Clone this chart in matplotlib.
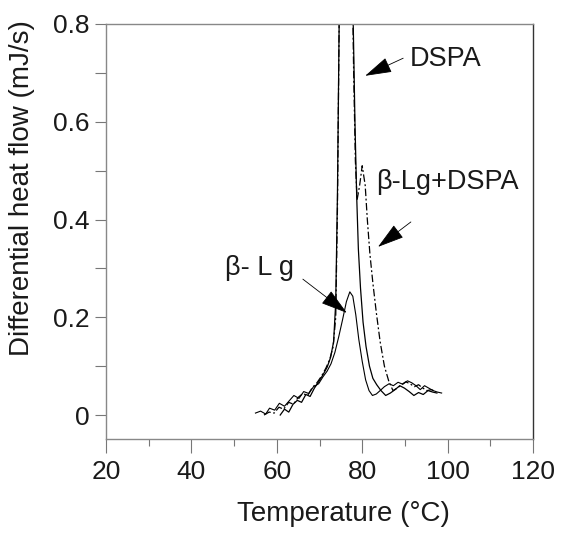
import matplotlib
matplotlib.use("Agg")
import matplotlib.pyplot as plt
from matplotlib.ticker import MultipleLocator

plt.rcParams["font.family"] = ["Liberation Sans", "DejaVu Sans"]

# beta-Lg alone (solid, broad peak)
t_lg = [55.0, 56.2, 57.4, 58.3, 59.5, 60.6, 61.8, 63.0, 64.0, 65.2, 66.3, 67.5,
        68.6, 69.8, 70.8, 71.8, 72.7, 73.6, 74.5, 75.4, 76.3, 77.1, 77.8, 78.5,
        79.2, 80.0, 80.8, 81.6, 82.4, 83.3, 84.2, 85.2, 86.3, 87.3, 88.4, 89.5,
        90.6, 91.6, 92.6, 93.6, 94.6, 95.6, 96.6, 97.6, 98.6]
q_lg = [0.004, 0.008, 0.002, 0.014, 0.010, 0.024, 0.018, 0.030, 0.040, 0.034,
        0.048, 0.044, 0.058, 0.064, 0.078, 0.090, 0.105, 0.128, 0.160, 0.195,
        0.232, 0.252, 0.243, 0.205, 0.155, 0.110, 0.072, 0.050, 0.040, 0.043,
        0.050, 0.058, 0.064, 0.060, 0.067, 0.063, 0.070, 0.066, 0.060, 0.052,
        0.060, 0.055, 0.050, 0.047, 0.045]

# DSPA alone (solid, sharp transition, off scale)
t_dspa = [60.8, 61.8, 62.8, 63.8, 64.8, 65.8, 66.8, 67.8, 68.8, 69.8, 70.8, 71.8,
          72.6, 73.3, 73.8, 74.2, 74.6, 75.2, 76.0, 76.8, 77.4, 77.9, 78.3, 78.7,
          79.1, 79.6, 80.2, 80.9, 81.7, 82.5, 83.4, 84.4, 85.5, 86.6, 87.7, 88.8,
          89.9, 91.0, 92.1, 93.2, 94.3, 95.4, 96.5, 97.5]
q_dspa = [0.0, 0.012, 0.006, 0.022, 0.030, 0.026, 0.042, 0.038, 0.055, 0.068,
          0.082, 0.098, 0.118, 0.150, 0.230, 0.450, 0.800, 1.200, 1.500, 1.300,
          1.000, 0.800, 0.600, 0.450, 0.340, 0.260, 0.190, 0.140, 0.100, 0.075,
          0.062, 0.050, 0.040, 0.045, 0.052, 0.060, 0.055, 0.048, 0.040, 0.046,
          0.042, 0.050, 0.047, 0.045]

# beta-Lg + DSPA (dash-dot)
t_mix = [57.0, 58.2, 59.4, 60.5, 61.6, 62.8, 63.9, 65.0, 66.1, 67.2, 68.3, 69.4,
         70.5, 71.5, 72.4, 73.2, 73.8, 74.2, 74.6, 75.2, 76.0, 76.8, 77.5, 78.0,
         78.4, 78.8, 79.4, 80.0, 80.7, 81.2, 81.8, 82.5, 83.3, 84.2, 85.2, 86.2,
         87.2, 88.2, 89.2, 90.2, 91.2, 92.2, 93.2, 94.2, 95.2, 96.2, 97.2]
q_mix = [0.0, 0.006, 0.004, 0.016, 0.012, 0.026, 0.022, 0.036, 0.044, 0.040,
         0.056, 0.066, 0.080, 0.096, 0.114, 0.140, 0.200, 0.420, 0.800, 1.250,
         1.600, 1.400, 1.000, 0.700, 0.520, 0.440, 0.470, 0.510, 0.470, 0.400,
         0.330, 0.270, 0.210, 0.150, 0.100, 0.070, 0.050, 0.055, 0.062, 0.068,
         0.064, 0.058, 0.062, 0.055, 0.050, 0.052, 0.048]

y_ticks = [0, 0.2, 0.4, 0.6, 0.8]
y_tick_labels = ["0", "0.2", "0.4", "0.6", "0.8"]
x_ticks = [20, 40, 60, 80, 100, 120]

fig = plt.figure(figsize=(5.63, 5.33), dpi=100)
ax = fig.add_axes([0.1883, 0.1764, 0.7584, 0.7786])

ax.plot(t_lg, q_lg, color="black", linewidth=0.8)
ax.plot(t_dspa, q_dspa, color="black", linewidth=0.9)
ax.plot(t_mix, q_mix, color="black", linewidth=0.9, linestyle=(0, (6, 2, 1.5, 2)))

ax.set_xlim(20, 120)
ax.set_ylim(-0.049, 0.8)
ax.set_xticks(x_ticks)
ax.set_yticks(y_ticks)
ax.set_yticklabels(y_tick_labels)
ax.xaxis.set_minor_locator(MultipleLocator(10))
ax.yaxis.set_minor_locator(MultipleLocator(0.1))

ax.tick_params(axis="y", which="both", direction="out", length=8, width=0.8,
               color="#777777", labelsize=19, pad=4, labelcolor="#1a1a1a")
ax.tick_params(axis="x", which="major", direction="out", length=10, width=0.8,
               color="#777777", labelsize=19, pad=5, labelcolor="#1a1a1a")
ax.tick_params(axis="x", which="minor", direction="out", length=5, width=0.8,
               color="#777777")

for side in ["left", "bottom", "top"]:
    ax.spines[side].set_color("#888888")
    ax.spines[side].set_linewidth(1.0)
ax.spines["right"].set_color("#333333")
ax.spines["right"].set_linewidth(1.0)

ax.set_xlabel("Temperature (°C)", fontsize=20, color="#1a1a1a")
ax.xaxis.set_label_coords(0.557, -0.15)
ax.set_ylabel("Differential heat flow (mJ/s)", fontsize=20, color="#1a1a1a")
ax.yaxis.set_label_coords(-0.166, 0.605)

arrow = dict(arrowstyle="-|>,head_length=1.7,head_width=0.5", mutation_scale=10,
             color="black", lw=0.6, shrinkA=0, shrinkB=0)

ax.annotate("", xy=(80.7, 0.694), xytext=(89.6, 0.73), arrowprops=arrow)
ax.text(91.2, 0.728, "DSPA", fontsize=19.5, va="center", ha="left", color="#1a1a1a")

ax.annotate("", xy=(83.7, 0.344), xytext=(91.4, 0.395), arrowprops=arrow)
ax.text(83.2, 0.477, "β-Lg+DSPA", fontsize=19.5, va="center", ha="left", color="#1a1a1a")

ax.annotate("", xy=(76.4, 0.209), xytext=(66.1, 0.278), arrowprops=arrow)
ax.text(47.9, 0.30, "β- L g", fontsize=19.5, va="center", ha="left", color="#1a1a1a")

fig.savefig("out.png", dpi=100)
